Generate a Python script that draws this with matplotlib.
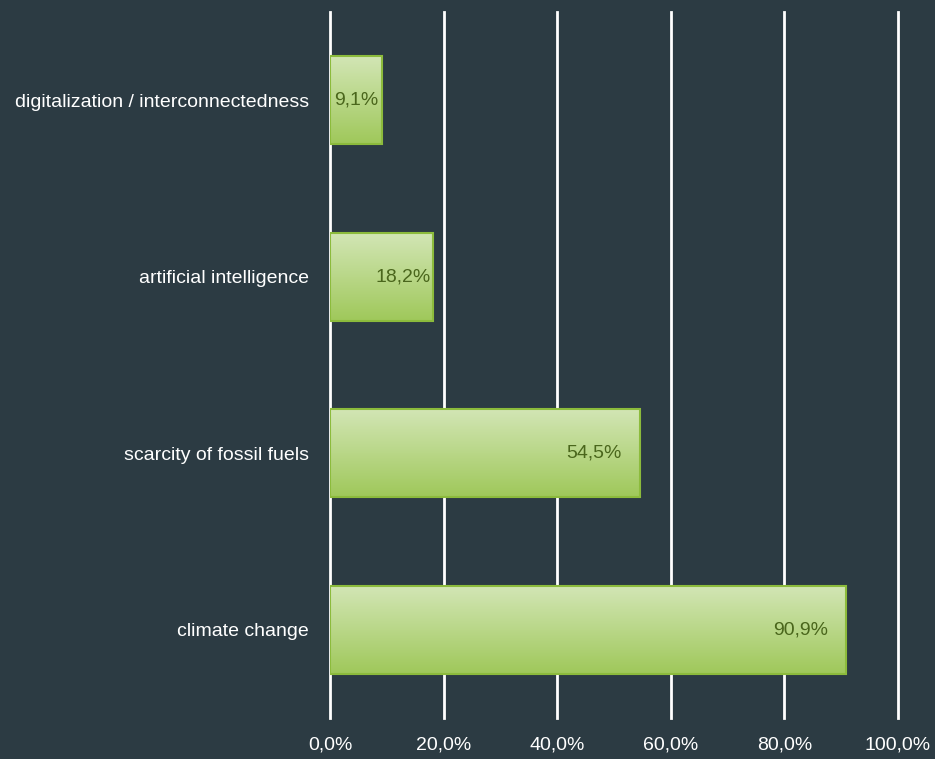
import numpy as np
import matplotlib as mpl
mpl.use('Agg')
import matplotlib.pyplot as plt
from matplotlib.colors import LinearSegmentedColormap

categories = ['climate change', 'scarcity of fossil fuels',
              'artificial intelligence', 'digitalization / interconnectedness']
values = [90.9, 54.5, 18.2, 9.1]
xticks = [0, 20, 40, 60, 80, 100]

bg = '#2c3b43'
mpl.rcParams['font.family'] = ['Liberation Sans Narrow', 'Liberation Sans', 'DejaVu Sans']

fig = plt.figure(figsize=(9.35, 7.59), dpi=100, facecolor=bg)
ax = fig.add_axes([330 / 935, 41 / 759, 568 / 935, 706 / 759])
ax.set_facecolor(bg)

y = np.arange(len(categories))
bars = ax.barh(y, values, height=0.5, color='none', edgecolor='#8cbb3c',
               linewidth=1.5, zorder=3)

# vertical gradient inside each bar
grad = LinearSegmentedColormap.from_list('g', ['#9fc85a', '#d3e6b6'])
img = np.linspace(0, 1, 256).reshape(-1, 1)
for b in bars:
    x0, y0, w, h = b.get_x(), b.get_y(), b.get_width(), b.get_height()
    ax.imshow(img, cmap=grad, aspect='auto', origin='lower',
              extent=(x0, x0 + w, y0, y0 + h), zorder=2)

for yi, v in zip(y, values):
    off = -3 if v < 20 else -18
    ax.annotate(f'{v:.1f}%'.replace('.', ','), (v, yi), xytext=(off, 0),
                textcoords='offset pixels',
                ha='right', va='center', fontsize=14, color='#4a661c', zorder=4)

ax.set_xlim(0, 100)
ax.set_ylim(-0.5, len(categories) - 0.5)
ax.set_xticks(xticks)
ax.set_xticklabels([f'{t:.1f}%'.replace('.', ',') for t in xticks])
ax.set_yticks(y)
ax.set_yticklabels(categories)
ax.tick_params(axis='both', length=0, colors='white', labelsize=14)
ax.tick_params(axis='x', pad=13)
ax.tick_params(axis='y', pad=15)
ax.grid(axis='x', color='white', linewidth=2, zorder=1)
for gl in ax.get_xgridlines():
    gl.set_clip_on(False)
for s in ax.spines.values():
    s.set_visible(False)

fig.savefig('out.png', dpi=100, facecolor=bg)
